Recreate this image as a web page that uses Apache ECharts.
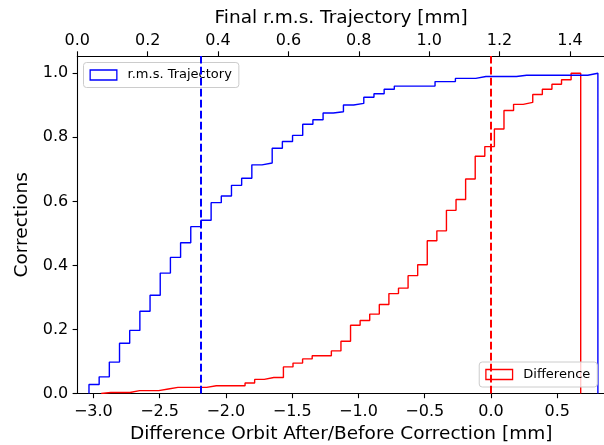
<!DOCTYPE html>
<html>
<head>
<meta charset="utf-8">
<script src="https://cdn.jsdelivr.net/npm/echarts@6/dist/echarts.min.js"></script>
<style>
  html, body { margin: 0; padding: 0; background: #fff; }
  #chart { width: 604px; height: 445px; }
</style>
</head>
<body>
<div id="chart"></div>
<script>
// Cumulative, normalised histograms (50 equal bins each)
const rmsBinRange = [0.0332, 1.4794];          // final r.m.s. trajectory [mm]
const rmsCumulative = [
  0.028, 0.052, 0.098, 0.157, 0.197, 0.257, 0.307, 0.376, 0.425, 0.471,
  0.521, 0.541, 0.596, 0.617, 0.650, 0.672, 0.714, 0.720, 0.766, 0.787,
  0.806, 0.841, 0.855, 0.876, 0.880, 0.901, 0.906, 0.925, 0.936, 0.950,
  0.960, 0.960, 0.960, 0.960, 0.974, 0.974, 0.984, 0.984, 0.990, 0.990,
  0.990, 0.990, 0.994, 0.994, 0.994, 0.994, 0.994, 0.994, 0.994, 1.000
];
const diffBinRange = [-2.9404, 0.6765];        // orbit difference after/before [mm]
const diffCumulative = [
  0.003, 0.003, 0.003, 0.009, 0.009, 0.009, 0.014, 0.019, 0.019, 0.019,
  0.019, 0.024, 0.024, 0.024, 0.024, 0.033, 0.044, 0.050, 0.050, 0.083,
  0.095, 0.108, 0.118, 0.118, 0.133, 0.163, 0.213, 0.228, 0.248, 0.278,
  0.312, 0.329, 0.368, 0.402, 0.477, 0.508, 0.572, 0.606, 0.670, 0.741,
  0.771, 0.826, 0.884, 0.903, 0.909, 0.934, 0.950, 0.966, 0.980, 1.000
];
// Reference markers
const rmsMarker = 0.349;
const diffMarker = 0.0;

// Axis ticks
const bottomTicks = [-3.0, -2.5, -2.0, -1.5, -1.0, -0.5, 0.0, 0.5];
const topTicks = [0.0, 0.2, 0.4, 0.6, 0.8, 1.0, 1.2, 1.4];
const yTicks = [0.0, 0.2, 0.4, 0.6, 0.8, 1.0];

const FONT = 'DejaVu Sans';
const BLUE = '#0000ff';
const RED = '#ff0000';

// Outline of a step histogram: up at the first edge, across each bin, down at the last edge
function stepOutline(range, values) {
  const n = values.length;
  const w = (range[1] - range[0]) / n;
  const pts = [[range[0], 0]];
  for (let i = 0; i < n; i++) {
    pts.push([range[0] + i * w, values[i]]);
    pts.push([range[0] + (i + 1) * w, values[i]]);
  }
  pts.push([range[1], 0]);
  return pts;
}

const fmt = v => v.toFixed(1).replace('-', '\u2212');

const axisCommon = {
  type: 'value',
  axisLine: { show: true, onZero: false, lineStyle: { color: '#000', width: 1.1 } },
  axisTick: { show: true, inside: false, length: 4.7, lineStyle: { color: '#000', width: 1.1 } },
  splitLine: { show: false },
  nameLocation: 'middle',
  nameTextStyle: { fontFamily: FONT, fontSize: 18.5, color: '#000' }
};

const chart = echarts.init(document.getElementById('chart'), null, { renderer: 'canvas' });

chart.setOption({
  animation: false,
  backgroundColor: '#ffffff',
  grid: { left: 77.3, right: -1, top: 56, bottom: 51.5, containLabel: false, outerBoundsMode: 'none' },
  xAxis: [
    Object.assign({}, axisCommon, {
      position: 'bottom',
      min: -3.1207, max: 0.8598,
      name: 'Difference Orbit After/Before Correction [mm]',
      nameGap: 31,
      axisTick: Object.assign({}, axisCommon.axisTick, { customValues: bottomTicks }),
      axisLabel: { customValues: bottomTicks, formatter: fmt, margin: 10,
                   fontFamily: FONT, fontSize: 16, color: '#000' }
    }),
    Object.assign({}, axisCommon, {
      position: 'top',
      min: 0, max: 1.4996,
      name: 'Final r.m.s. Trajectory [mm]',
      nameGap: 20,
      axisTick: Object.assign({}, axisCommon.axisTick, { customValues: topTicks }),
      axisLabel: { customValues: topTicks, formatter: fmt, margin: 7,
                   fontFamily: FONT, fontSize: 16, color: '#000' }
    })
  ],
  yAxis: Object.assign({}, axisCommon, {
    min: 0, max: 1.054,
    name: 'Corrections',
    nameGap: 37,
    axisTick: Object.assign({}, axisCommon.axisTick, { customValues: yTicks }),
    axisLabel: { customValues: yTicks, formatter: fmt, margin: 9,
                 fontFamily: FONT, fontSize: 16, color: '#000' }
  }),
  legend: [
    {
      data: [{ name: 'r.m.s. Trajectory', icon: 'rect',
               itemStyle: { color: 'rgba(0,0,0,0)', borderColor: BLUE, borderWidth: 1.3 } }],
      left: 83.5, top: 62.5,
      itemWidth: 26.7, itemHeight: 10,
      padding: [5, 7, 5, 6],
      backgroundColor: 'rgba(255,255,255,0.8)',
      borderColor: '#cccccc', borderWidth: 1, borderRadius: 3,
      selectedMode: false,
      textStyle: { fontFamily: FONT, fontSize: 13, color: '#000', padding: [0, 0, 0, 5.7], lineHeight: 15 }
    },
    {
      data: [{ name: 'Difference', icon: 'rect',
               itemStyle: { color: 'rgba(0,0,0,0)', borderColor: RED, borderWidth: 1.3 } }],
      right: 6.7, bottom: 58,
      itemWidth: 26.7, itemHeight: 10,
      padding: [5, 7, 5, 6],
      backgroundColor: 'rgba(255,255,255,0.8)',
      borderColor: '#cccccc', borderWidth: 1, borderRadius: 3,
      selectedMode: false,
      textStyle: { fontFamily: FONT, fontSize: 13, color: '#000', padding: [0, 0, 0, 5.7], lineHeight: 15 }
    }
  ],
  series: [
    {
      name: 'Difference',
      type: 'line',
      xAxisIndex: 0,
      data: stepOutline(diffBinRange, diffCumulative),
      showSymbol: false,
      symbol: 'none',
      color: RED,
      lineStyle: { color: RED, width: 1.4 },
      z: 2,
      markLine: {
        silent: true, symbol: 'none', label: { show: false },
        lineStyle: { color: RED, width: 2, type: [7.7, 3.3] },
        data: [{ xAxis: diffMarker }]
      }
    },
    {
      name: 'r.m.s. Trajectory',
      type: 'line',
      xAxisIndex: 1,
      data: stepOutline(rmsBinRange, rmsCumulative),
      showSymbol: false,
      symbol: 'none',
      color: BLUE,
      lineStyle: { color: BLUE, width: 1.4 },
      z: 3,
      markLine: {
        silent: true, symbol: 'none', label: { show: false },
        lineStyle: { color: BLUE, width: 2, type: [7.7, 3.3] },
        data: [{ xAxis: rmsMarker }]
      }
    }
  ]
});
</script>
</body>
</html>
